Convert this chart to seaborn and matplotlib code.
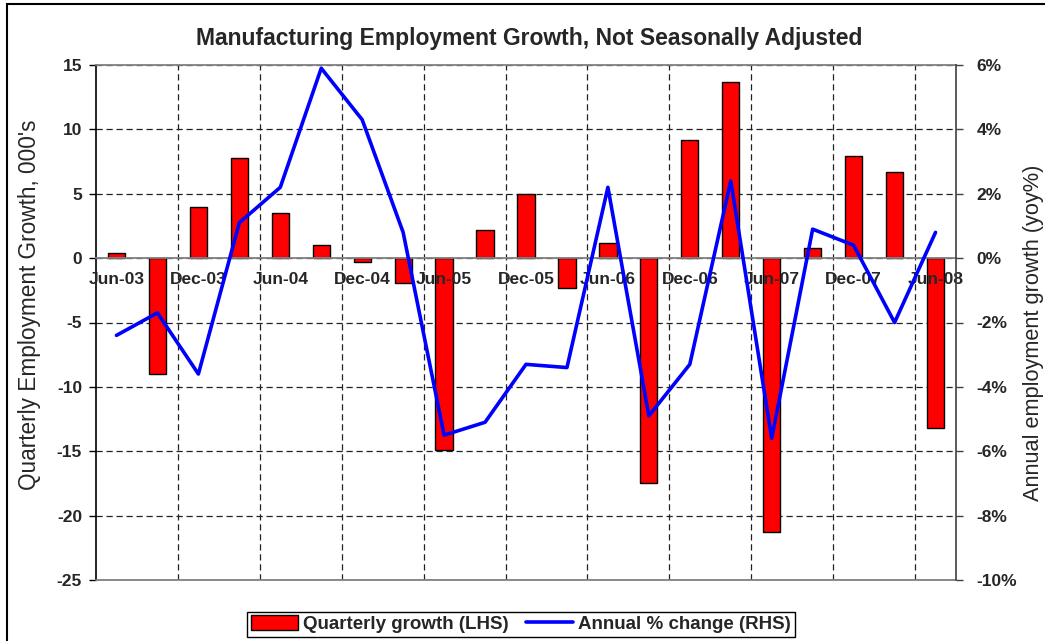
import numpy as np
import matplotlib
matplotlib.use("Agg")
import matplotlib.pyplot as plt
import seaborn as sns
from matplotlib.patches import Rectangle
from matplotlib.ticker import FuncFormatter

# Data
quarters = ["Jun-03", "Sep-03", "Dec-03", "Mar-04", "Jun-04", "Sep-04", "Dec-04",
            "Mar-05", "Jun-05", "Sep-05", "Dec-05", "Mar-06", "Jun-06", "Sep-06",
            "Dec-06", "Mar-07", "Jun-07", "Sep-07", "Dec-07", "Mar-08", "Jun-08"]
quarterly_growth = [0.4, -9.0, 4.0, 7.8, 3.5, 1.0, -0.3, -1.9, -14.9, 2.2, 5.0,
                    -2.3, 1.2, -17.5, 9.2, 13.7, -21.3, 0.8, 7.9, 6.7, -13.2]
annual_change = [-2.4, -1.7, -3.6, 1.1, 2.2, 5.9, 4.3, 0.8, -5.5, -5.1, -3.3,
                 -3.4, 2.2, -4.9, -3.3, 2.4, -5.6, 0.9, 0.4, -2.0, 0.8]

left_ticks = [15, 10, 5, 0, -5, -10, -15, -20, -25]
right_ticks = [6, 4, 2, 0, -2, -4, -6, -8, -10]

sns.set_style("white")
plt.rcParams["font.family"] = ["Liberation Sans", "DejaVu Sans"]
plt.rcParams["axes.unicode_minus"] = False

W, H = 1045, 641
fig = plt.figure(figsize=(W / 100, H / 100), dpi=100)
ax = fig.add_axes([96 / W, 1 - 580 / H, (956 - 96) / W, (580 - 65) / H])

sns.barplot(x=quarters, y=quarterly_growth, color="#FF0000", saturation=1,
            edgecolor="black", linewidth=1, width=0.42, ax=ax, zorder=2)

ax2 = ax.twinx()
sns.lineplot(x=quarters, y=annual_change, color="#0000FF", lw=2.6, sort=False,
             ax=ax2, zorder=4)

# left axis / categories
ax.set_ylim(-25, 15)
ax.set_yticks(left_ticks)
ax.set_xlim(-0.5, len(quarters) - 0.5)
ax.set_xticks(range(0, len(quarters), 2))
ax.set_xticklabels(quarters[::2])
ax.set_xticks(np.arange(1.5, len(quarters) - 1, 2), minor=True)
ax.tick_params(axis="x", which="both", length=0, labelbottom=False)
ax.tick_params(axis="y", direction="out", length=5, width=1, pad=5,
               labelsize=12.5, left=True, color="black")

ax.set_axisbelow(True)
ax.yaxis.grid(True, linestyle=(0, (5, 3)), color="#222222", lw=0.9)
ax.xaxis.grid(True, which="minor", linestyle=(0, (5, 3)), color="#222222", lw=0.9)
ax.xaxis.grid(False, which="major")

ax.spines["bottom"].set_position(("data", 0))
ax.spines["bottom"].set_color("#808080")
ax.spines["bottom"].set_linewidth(1.3)
ax.spines["top"].set_color("#808080")
ax.spines["top"].set_linewidth(1.3)
ax.spines["right"].set_visible(False)
ax.spines["left"].set_color("black")
ax.spines["left"].set_linewidth(1.2)
ax.axhline(-25, color="#808080", lw=1.3, clip_on=False, zorder=3)
ax.set_xlabel("")
ax.set_ylabel("")

# right axis; its x axis (0% sits on the same height as 0) carries the
# category labels so they are drawn above the bars
ax2.set_ylim(-10, 6)
ax2.set_yticks(right_ticks)
ax2.yaxis.set_major_formatter(FuncFormatter(lambda v, p: f"{v:.0f}%"))
ax2.tick_params(axis="y", direction="out", length=5, width=1, pad=10,
                labelsize=12.5, right=True, color="#404040")
ax2.xaxis.set_visible(True)
ax2.spines["bottom"].set_position(("data", 0))
ax2.tick_params(axis="x", which="both", length=0, pad=10, labelsize=12.5,
                labelbottom=True, bottom=False)
for side in ["top", "bottom", "left"]:
    ax2.spines[side].set_visible(False)
ax2.spines["right"].set_color("#404040")
ax2.spines["right"].set_linewidth(1.2)
ax2.set_ylabel("")
ax2.set_xlabel("")
ax2.grid(False)

fig.text(529 / W, 1 - 38 / H, "Manufacturing Employment Growth, Not Seasonally Adjusted",
         ha="center", va="center", fontsize=16.5, fontweight="bold")
fig.text(30 / W, 1 - 305 / H, "Quarterly Employment Growth, 000's", rotation=90,
         ha="center", va="center", fontsize=16.3)
fig.text(1033 / W, 1 - 333 / H, "Annual employment growth (yoy%)", rotation=90,
         ha="center", va="center", fontsize=15.7)

leg = fig.legend(handles=[ax.containers[0], ax2.lines[0]],
                 labels=["Quarterly growth (LHS)", "Annual % change (RHS)"],
                 loc="lower center", bbox_to_anchor=(521 / W, 4 / H), ncol=2,
                 frameon=True, fancybox=False, edgecolor="black", framealpha=1,
                 prop={"weight": "bold", "size": 13.5}, handlelength=2.5,
                 handleheight=0.85, borderpad=0.2, columnspacing=0.9,
                 handletextpad=0.3, borderaxespad=0)
leg.get_frame().set_linewidth(1)

fig.patches.append(Rectangle((7 / W, -0.1), 1.2, 1.1 - 4 / H, transform=fig.transFigure,
                             fill=False, edgecolor="black", lw=1.5))

# bold tick labels, applied last so nothing resets them
fig.canvas.draw()
for lab in ax2.get_xticklabels() + ax.get_yticklabels() + ax2.get_yticklabels():
    lab.set_fontweight("bold")

fig.savefig("out.png", dpi=100)
